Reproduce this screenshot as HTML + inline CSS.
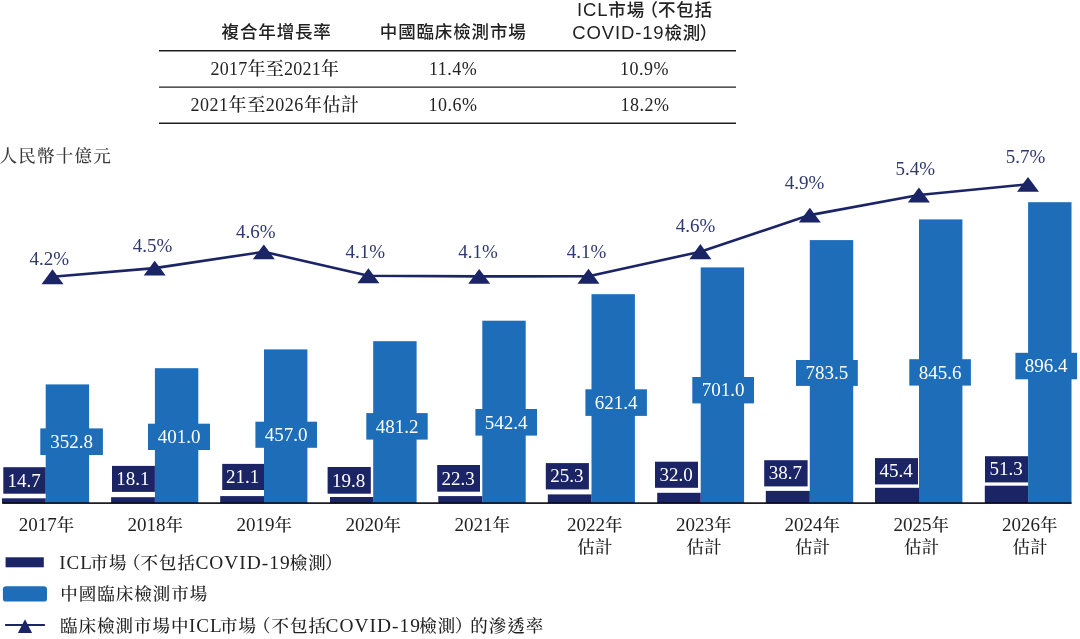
<!DOCTYPE html>
<html lang="zh-Hant"><head><meta charset="utf-8"><title>chart</title>
<style>html,body{margin:0;padding:0;background:#fff}body{width:1080px;height:639px;overflow:hidden}svg{display:block}.s{font-family:"Liberation Serif","Noto Serif CJK TC","Noto Serif CJK SC",serif;font-weight:500}.h{font-family:"Liberation Sans","Noto Sans CJK TC",sans-serif}</style></head><body>
<svg width="1080" height="639" viewBox="0 0 1080 639">
<rect width="1080" height="639" fill="#fff"/>
<g stroke="#1e1e1e" stroke-width="1.4">
<line x1="159" y1="50.7" x2="736" y2="50.7"/>
<line x1="159" y1="87.1" x2="736" y2="87.1"/>
<line x1="159" y1="123.2" x2="736" y2="123.2"/>
</g>
<g class="h" font-size="17.5" font-weight="500" fill="#222" letter-spacing="0.85">
<text x="221.6" y="38.4">複合年增長率</text>
<text x="379.8" y="38.4">中國臨床檢測市場</text>
<text x="577" y="15.9"><tspan font-size="18.5">ICL</tspan>市場<tspan dx="-4.5">（</tspan><tspan dx="-1">不包括</tspan></text>
<text x="572.3" y="38.7"><tspan font-size="18.5">COVID-19</tspan>檢測<tspan dx="-1.5">）</tspan></text>
</g>
<g class="s" font-size="18" fill="#222" text-anchor="middle">
<text x="274.9" y="75" letter-spacing="0.25">2017年至2021年</text>
<text x="275.0" y="111.1" letter-spacing="0.55">2021年至2026年估計</text>
<g letter-spacing="0.5">
<text x="453.1" y="74.8">11.4%</text>
<text x="453.1" y="111">10.6%</text>
<text x="644.6" y="74.8">10.9%</text>
<text x="645.1" y="111.3">18.2%</text>
</g>
</g>
<text class="s" x="-0.5" y="162" font-size="17.5" fill="#3a3a3a" letter-spacing="1.25">人民幣十億元</text>
<g fill="#1d6db8">
<rect x="45.7" y="384.4" width="43.4" height="118.6"/>
<rect x="40.3" y="428.4" width="62.6" height="26.6"/>
<rect x="154.9" y="368.2" width="43.4" height="134.8"/>
<rect x="148.0" y="423.7" width="62.0" height="26.3"/>
<rect x="264.0" y="349.4" width="43.4" height="153.6"/>
<rect x="255.4" y="421.7" width="61.6" height="26.1"/>
<rect x="373.2" y="341.2" width="43.4" height="161.8"/>
<rect x="366.3" y="413.1" width="61.4" height="26.5"/>
<rect x="482.3" y="320.7" width="43.4" height="182.3"/>
<rect x="475.4" y="409.0" width="61.6" height="26.6"/>
<rect x="591.5" y="294.2" width="43.4" height="208.8"/>
<rect x="585.4" y="389.3" width="61.5" height="26.6"/>
<rect x="700.7" y="267.4" width="43.4" height="235.6"/>
<rect x="692.3" y="377.0" width="61.7" height="26.4"/>
<rect x="809.8" y="240.1" width="43.4" height="262.9"/>
<rect x="796.0" y="360.0" width="61.8" height="25.9"/>
<rect x="919.0" y="219.4" width="43.4" height="283.6"/>
<rect x="909.3" y="359.2" width="61.6" height="26.4"/>
<rect x="1028.1" y="202.2" width="43.4" height="300.8"/>
<rect x="1015.4" y="352.8" width="61.7" height="26.5"/>
</g>
<g fill="#1b2566">
<rect x="2.0" y="498.3" width="43.7" height="4.7"/>
<rect x="3.3" y="467.2" width="42.4" height="26.5"/>
<rect x="111.1" y="497.2" width="43.8" height="5.8"/>
<rect x="112.0" y="465.9" width="42.9" height="26.0"/>
<rect x="220.2" y="496.1" width="43.8" height="6.9"/>
<rect x="222.2" y="463.9" width="41.8" height="26.1"/>
<rect x="330.0" y="497.0" width="43.2" height="6.0"/>
<rect x="327.6" y="467.0" width="43.2" height="26.7"/>
<rect x="438.3" y="496.1" width="44.0" height="6.9"/>
<rect x="437.2" y="465.0" width="42.8" height="26.7"/>
<rect x="547.8" y="494.4" width="43.7" height="8.6"/>
<rect x="545.8" y="463.1" width="43.1" height="26.3"/>
<rect x="657.2" y="492.8" width="43.5" height="10.2"/>
<rect x="655.0" y="461.7" width="43.0" height="26.1"/>
<rect x="765.8" y="490.9" width="44.0" height="12.1"/>
<rect x="764.2" y="460.2" width="43.4" height="26.2"/>
<rect x="875.0" y="487.8" width="44.0" height="15.2"/>
<rect x="875.0" y="458.1" width="43.0" height="26.3"/>
<rect x="984.8" y="485.7" width="43.3" height="17.3"/>
<rect x="985.0" y="456.2" width="43.0" height="26.2"/>
</g>
<rect x="2.2" y="502.3" width="1069.3999999999999" height="1.6" fill="#06060f"/>
<g class="s" font-size="19" fill="#fff" text-anchor="middle">
<text x="71.6" y="447.9">352.8</text>
<text x="24.0" y="486.6">14.7</text>
<text x="179.0" y="443.1">401.0</text>
<text x="132.9" y="485.0">18.1</text>
<text x="286.2" y="440.9">457.0</text>
<text x="242.6" y="483.1">21.1</text>
<text x="397.0" y="432.6">481.2</text>
<text x="348.7" y="486.5">19.8</text>
<text x="506.2" y="428.5">542.4</text>
<text x="458.1" y="484.5">22.3</text>
<text x="616.1" y="408.8">621.4</text>
<text x="566.8" y="482.4">25.3</text>
<text x="723.1" y="396.4">701.0</text>
<text x="676.0" y="480.9">32.0</text>
<text x="826.9" y="379.1">783.5</text>
<text x="785.4" y="479.4">38.7</text>
<text x="940.1" y="378.6">845.6</text>
<text x="896.0" y="477.4">45.4</text>
<text x="1046.2" y="372.2">896.4</text>
<text x="1006.0" y="475.4">51.3</text>
</g>
<polyline points="52.5,276.7 154.7,268.1 263.8,251.8 368.4,275.8 479.2,276.4 588.5,276.2 700.4,251.7 809.8,215.1 918.9,195.0 1028.0,184.3" fill="none" stroke="#1b2566" stroke-width="2.6" stroke-linejoin="round"/>
<g fill="#1b2566">
<polygon points="52.5,269.2 63.5,284.2 41.5,284.2"/>
<polygon points="154.7,260.8 165.7,275.5 143.7,275.5"/>
<polygon points="263.8,244.5 274.8,259.2 252.8,259.2"/>
<polygon points="368.4,268.3 379.4,283.3 357.4,283.3"/>
<polygon points="479.2,269.0 490.2,283.7 468.2,283.7"/>
<polygon points="588.5,268.7 599.5,283.7 577.5,283.7"/>
<polygon points="700.4,244.0 711.4,259.3 689.4,259.3"/>
<polygon points="809.8,207.7 820.8,222.5 798.8,222.5"/>
<polygon points="918.9,187.5 929.9,202.5 907.9,202.5"/>
<polygon points="1028.0,177.0 1039.0,191.7 1017.0,191.7"/>
</g>
<g class="s" font-size="19" fill="#2f386f" text-anchor="middle">
<text x="49.2" y="264.5">4.2%</text>
<text x="152.5" y="251.7">4.5%</text>
<text x="255.9" y="237.5">4.6%</text>
<text x="365.2" y="257.7">4.1%</text>
<text x="478.0" y="257.7">4.1%</text>
<text x="586.6" y="257.7">4.1%</text>
<text x="695.5" y="232.0">4.6%</text>
<text x="804.6" y="188.5">4.9%</text>
<text x="915.2" y="175.4">5.4%</text>
<text x="1025.5" y="162.7">5.7%</text>
</g>
<g class="s" font-size="17.5" fill="#222" text-anchor="middle" letter-spacing="0.3">
<text x="46.6" y="530.5"><tspan font-size="19" letter-spacing="0">2017</tspan>年</text>
<text x="155.5" y="530.5"><tspan font-size="19" letter-spacing="0">2018</tspan>年</text>
<text x="264.5" y="530.5"><tspan font-size="19" letter-spacing="0">2019</tspan>年</text>
<text x="373.5" y="530.5"><tspan font-size="19" letter-spacing="0">2020</tspan>年</text>
<text x="482.5" y="530.5"><tspan font-size="19" letter-spacing="0">2021</tspan>年</text>
<text x="594.8" y="530.5"><tspan font-size="19" letter-spacing="0">2022</tspan>年</text>
<text x="595.0999999999999" y="552.6">估計</text>
<text x="704.0" y="530.5"><tspan font-size="19" letter-spacing="0">2023</tspan>年</text>
<text x="704.3" y="552.6">估計</text>
<text x="812.5" y="530.5"><tspan font-size="19" letter-spacing="0">2024</tspan>年</text>
<text x="812.8" y="552.6">估計</text>
<text x="921.5" y="530.5"><tspan font-size="19" letter-spacing="0">2025</tspan>年</text>
<text x="921.8" y="552.6">估計</text>
<text x="1030.0" y="530.5"><tspan font-size="19" letter-spacing="0">2026</tspan>年</text>
<text x="1030.3" y="552.6">估計</text>
</g>
<rect x="5.6" y="557.3" width="38.2" height="10" fill="#1b2566"/>
<rect x="2.9" y="586.2" width="44.1" height="15.4" rx="3.2" fill="#1d6db8"/>
<line x1="5.1" y1="625" x2="44.9" y2="625" stroke="#1b2566" stroke-width="2.1"/>
<polygon points="25,619.2 32.1,633.1 17.9,633.1" fill="#1b2566"/>
<g class="s" font-size="17.5" fill="#222" letter-spacing="1">
<text x="59.3" y="568.6"><tspan font-size="19" dx="0">ICL</tspan><tspan dx="-2.5">市場</tspan><tspan dx="-4.5">（</tspan><tspan dx="-1">不包括</tspan><tspan font-size="19.4" dx="-0.5">COVID-19</tspan><tspan dx="-1">檢測</tspan><tspan dx="-2">）</tspan></text>
<text x="60.3" y="600">中國臨床檢測市場</text>
<text x="60" y="631.5">臨床檢測市場中<tspan font-size="19" dx="-0.5">ICL</tspan><tspan dx="-2.5">市場</tspan><tspan dx="-4">（</tspan><tspan dx="0">不包括</tspan><tspan font-size="19.4" dx="-1.5">COVID-19</tspan><tspan dx="-1.5">檢測</tspan><tspan dx="-1.5">）</tspan><tspan dx="-3">的滲透率</tspan></text>
</g>
</svg></body></html>
